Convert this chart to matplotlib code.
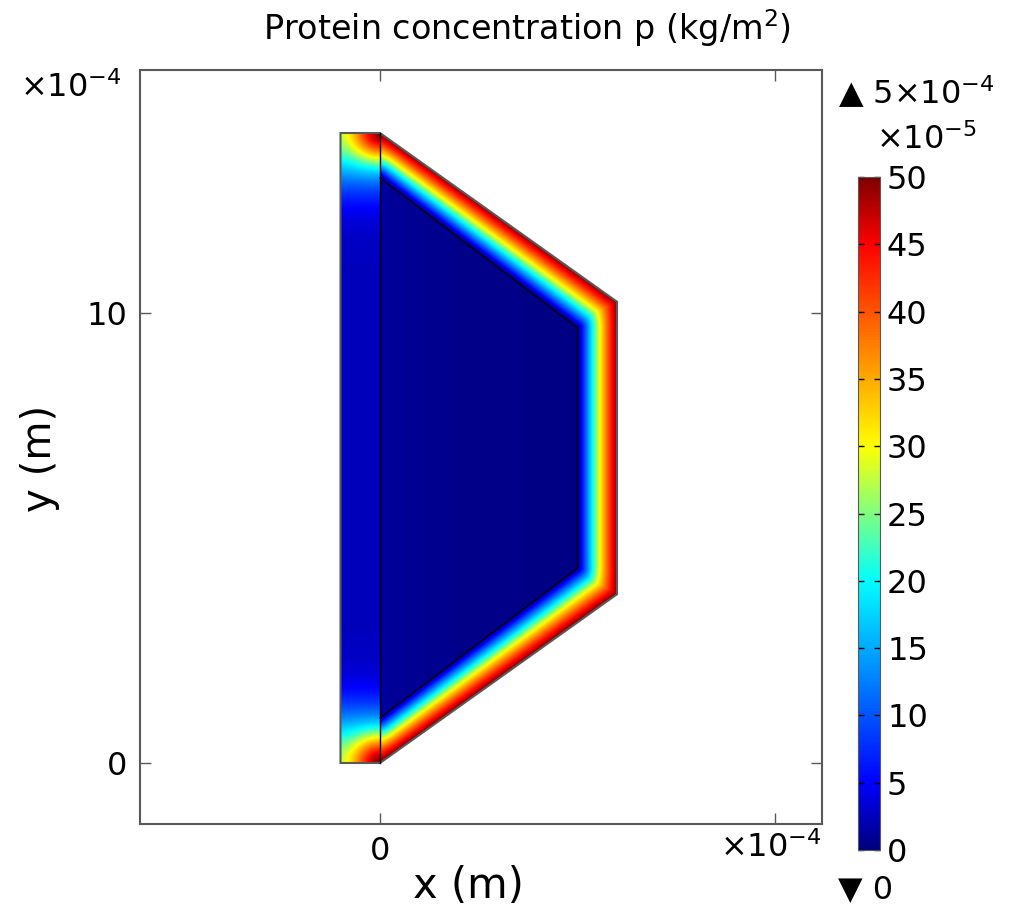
import numpy as np
import matplotlib
matplotlib.use('Agg')
import matplotlib.pyplot as plt
from matplotlib.path import Path
from matplotlib.patches import PathPatch, Polygon
from matplotlib.colors import LinearSegmentedColormap

# geometry in units of 1e-4 m
domain = [(-1, 0), (0, 0), (6, 3.75), (6, 10.25), (0, 14), (-1, 14)]
outer_edge = [(0, 0), (6, 3.75), (6, 10.25), (0, 14)]
inner_poly = [(0, 1), (5, 4.33), (5, 9.67), (0, 13)]
divider = [(0, 0), (0, 14)]

# colour scale (units of 1e-5 kg/m^2)
cbar_ticks = [0, 5, 10, 15, 20, 25, 30, 35, 40, 45, 50]
cmap_stops = [0.0, 0.1, 0.4, 0.6, 0.9, 1.0]
cmap_colors = [(0, 0, 0.5), (0, 0, 1), (0, 1, 1), (1, 1, 0), (1, 0, 0), (0.5, 0, 0)]

# field model parameters
band_peak = 50.0
band_power = 1.15
left_base = 2.5
left_edge_amp = 22.0
left_edge_len = 1.15
left_corner_amp = 25.0
left_corner_len = 0.6
inner_base = 0.3
inner_amp = 1.0
inner_len = 1.5

sx = 39.5 / 45.0  # x stretch of the picture


def dist_to_segments(X, Y, pts, closed):
    pts = [(p[0] * sx, p[1]) for p in pts]
    segs = list(zip(pts[:-1], pts[1:]))
    if closed:
        segs.append((pts[-1], pts[0]))
    Xs = X * sx
    d = np.full(X.shape, np.inf)
    for (ax_, ay_), (bx_, by_) in segs:
        vx, vy = bx_ - ax_, by_ - ay_
        t = ((Xs - ax_) * vx + (Y - ay_) * vy) / (vx * vx + vy * vy)
        t = np.clip(t, 0, 1)
        dd = np.hypot(Xs - ax_ - t * vx, Y - ay_ - t * vy)
        d = np.minimum(d, dd)
    return d


xs = np.linspace(-1.05, 6.05, 711)
ys = np.linspace(-0.05, 14.05, 1411)
X, Y = np.meshgrid(xs, ys)
P = np.column_stack([X.ravel(), Y.ravel()])

in_inner = Path(inner_poly + [inner_poly[0]], closed=True).contains_points(P).reshape(X.shape)

# band between inner polygon and outer edge
d_in = dist_to_segments(X, Y, inner_poly, True)
d_out = dist_to_segments(X, Y, outer_edge, False)
t = np.clip(d_in / (d_in + d_out + 1e-9), 0, 1)
band = band_peak * (1 - (1 - t) ** band_power)

# inner region
inner = inner_base + inner_amp * np.exp(-X / inner_len)

# left strip
dy_top = np.clip(14 - Y, 0, None)
dy_bot = np.clip(Y, 0, None)
r_top = np.hypot(X * sx, dy_top)
r_bot = np.hypot(X * sx, dy_bot)
left = (left_base
        + left_edge_amp * (np.exp(-(dy_top / left_edge_len) ** 2) + np.exp(-(dy_bot / left_edge_len) ** 2))
        + left_corner_amp * (np.exp(-(r_top / left_corner_len) ** 2) + np.exp(-(r_bot / left_corner_len) ** 2)))

Z = np.where(X < 0, left, np.where(in_inner, inner, band))
Z = np.clip(Z, 0, 50)

cmap = LinearSegmentedColormap.from_list('comsol', list(zip(cmap_stops, cmap_colors)))

W, H = 1014, 924
fig = plt.figure(figsize=(W / 100, H / 100), dpi=100)
ax = fig.add_axes([140 / W, 1 - 824 / H, 682 / W, 754 / H])

im = ax.imshow(Z, extent=[xs[0], xs[-1], ys[0], ys[-1]], origin='lower', aspect='auto',
               interpolation='bilinear', cmap=cmap, vmin=0, vmax=50)
clip = PathPatch(Path(domain + [domain[0]], closed=True), transform=ax.transData, fc='none', ec='none')
ax.add_patch(clip)
im.set_clip_path(clip)

ax.add_patch(Polygon(domain, closed=True, fill=False, ec='0.35', lw=1.5))
ax.plot([p[0] for p in divider], [p[1] for p in divider], color='black', lw=1)
ax.plot([p[0] for p in inner_poly], [p[1] for p in inner_poly], color='black', lw=1, alpha=0.85)

ax.set_xlim((140 - 380) / 39.5, (822 - 380) / 39.5)
ax.set_ylim((763 - 824) / 45, (763 - 70) / 45)
ax.set_xticks([0, 10])
ax.set_xticklabels(['0', ''])
ax.set_yticks([0, 10])
ax.set_yticklabels(['0', '10'])
ax.tick_params(direction='in', length=8, width=1, color='0.35', top=True, right=True,
               labelsize=23, pad=9)
for s in ax.spines.values():
    s.set_color('0.35')
    s.set_linewidth(1.5)

# colorbar
cax = fig.add_axes([858 / W, 1 - 850 / H, 22 / W, 673 / H])
cb = fig.colorbar(im, cax=cax, ticks=cbar_ticks)
cb.outline.set_edgecolor('0.35')
cax.tick_params(direction='in', length=4, width=1, left=True, right=True, labelsize=23, pad=5)


def ftext(x, y, s, **kw):
    fig.text(x / W, 1 - y / H, s, **kw)


ftext(527, 28, 'Protein concentration p (kg/m$^2$)', ha='center', va='center', fontsize=24)
ftext(20, 88, '×10$^{-4}$', ha='left', va='center', fontsize=23)
ftext(822, 848, '×10$^{-4}$', ha='right', va='center', fontsize=23)
ftext(838, 93, '▲ 5×10$^{-4}$', ha='left', va='center', fontsize=23)
ftext(876, 140, '×10$^{-5}$', ha='left', va='center', fontsize=23)
ftext(838, 890, '▼ 0', ha='left', va='center', fontsize=23)
ftext(468, 886, 'x (m)', ha='center', va='center', fontsize=30)
ftext(40, 458, 'y (m)', ha='center', va='center', fontsize=29, rotation=90)

fig.savefig('out.png', dpi=100)
